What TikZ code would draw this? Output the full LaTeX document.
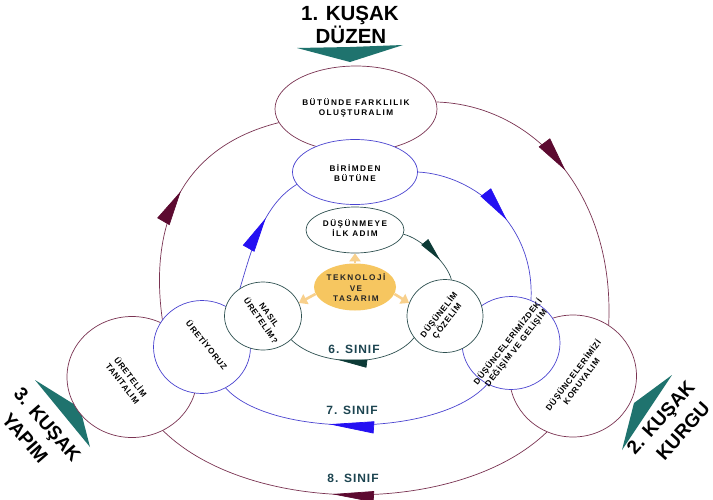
\documentclass[tikz,border=0pt]{standalone}
\usepackage{fontspec}
\setmainfont{Liberation Sans}
\newfontfamily\spcfont[LetterSpace=18]{Liberation Sans}
\newfontfamily\spcfontb[LetterSpace=8]{Liberation Sans}
\usetikzlibrary{shapes.geometric,arrows.meta,decorations.markings}
\definecolor{maroonline}{HTML}{7A3352}
\definecolor{maroonfill}{HTML}{5C0A30}
\definecolor{blueline}{HTML}{4A44D0}
\definecolor{bluefill}{HTML}{2410F2}
\definecolor{tealline}{HTML}{2E5050}
\definecolor{tealfill}{HTML}{0C3A36}
\definecolor{bigteal}{HTML}{1F736E}
\definecolor{goldfill}{HTML}{F6C660}
\definecolor{goldarrow}{HTML}{F8D08C}
\definecolor{labelcol}{HTML}{1C4450}
\begin{document}
\begin{tikzpicture}[x=1pt,y=-1pt,
  ell/.style={ellipse, fill=white, line width=0.7pt, inner sep=0pt},
  outerell/.style={ell, draw=maroonline},
  midell/.style={ell, draw=blueline},
  innerell/.style={ell, draw=tealline},
  boxtext/.style={font=\spcfont\bfseries\fontsize{8.2}{10.5}\selectfont, align=center, inner sep=0pt},
  rottext/.style={font=\spcfontb\bfseries\fontsize{8.3}{10.2}\selectfont, align=center, inner sep=0pt},
  bigtext/.style={font=\bfseries\fontsize{20.5}{20}\selectfont, inner sep=0pt},
  sidetext/.style={font=\bfseries\fontsize{19}{19}\selectfont, inner sep=0pt},
  classtext/.style={font=\spcfontb\bfseries\fontsize{12}{12}\selectfont, text=labelcol, inner sep=0pt},
  outerring/.style n args={3}{draw=maroonline, line width=0.7pt,
    postaction={decorate, decoration={markings, mark=at position #1 with {\arrow{Triangle[length=#2, width=#3, color=maroonfill]}}}}},
  midring/.style n args={3}{draw=blueline, line width=0.7pt,
    postaction={decorate, decoration={markings, mark=at position #1 with {\arrow{Triangle[length=#2, width=#3, color=bluefill]}}}}},
  innerring/.style n args={3}{draw=tealline, line width=0.7pt,
    postaction={decorate, decoration={markings, mark=at position #1 with {\arrow{Triangle[length=#2, width=#3, color=tealfill]}}}}},
  goldarr/.style={draw=goldarrow, line width=2.6pt, -{Triangle[length=8pt, width=11pt]}}
]
\fill[white] (0,0) rectangle (713,499);
\useasboundingbox (0,0) rectangle (713,499);

% big generation arrows and labels
\fill[bigteal] (297,48) -- (350,47) -- (403,45) -- (350,62) -- cycle;
\fill[bigteal] (672,375) -- (634,403) -- (622,450) -- cycle;
\fill[bigteal] (35,380) -- (80,408) -- (90,447) -- cycle;
\node[bigtext] (K1a) at (350,15) {1. KUŞAK};
\node[bigtext] (K1b) at (351,35) {DÜZEN};
\node[sidetext, rotate=48] (K2a) at (662,419) {2. KUŞAK};
\node[sidetext, rotate=48] (K2b) at (683,431) {KURGU};
\node[sidetext, rotate=-49] (K3a) at (46,426) {3. KUŞAK};
\node[sidetext, rotate=-49] (K3b) at (25,438) {YAPIM};

% outer ring
\node[outerell, minimum width=162pt, minimum height=86pt] (ET) at (356,109) {};
\node[boxtext] (ETt) at (356,108) {BÜTÜNDE FARKLILIK\\OLUŞTURALIM};
\node[outerell, minimum width=127pt, minimum height=122pt] (ER) at (573,376) {};
\node[rottext, rotate=53] (ERt) at (577,378) {DÜŞÜNCELERİMİZİ\\KORUYALIM};
\node[outerell, minimum width=130pt, minimum height=121pt] (EL) at (132,377) {};
\node[rottext, rotate=-52] (ELt) at (127,380) {ÜRETELİM\\TANITALIM};
\draw[outerring={0.48}{35pt}{14pt}] (ET.5) .. controls (535,105) and (615,195) .. (ER.55);
\draw[outerring={0.555}{42pt}{11pt}] (ER.245) .. controls (460,516) and (250,516) .. (EL.300);
\draw[outerring={0.525}{35pt}{14pt}] (EL.60) .. controls (150,240) and (170,150) .. (ET.190);

% middle ring
\node[midell, minimum width=125pt, minimum height=65pt] (MT) at (355,172) {};
\node[boxtext] (MTt) at (355,173) {BİRİMDEN\\BÜTÜNE};
\node[midell, minimum width=98pt, minimum height=93pt] (MR) at (511,343) {};
\node[rottext, rotate=52] (MRt) at (512,345) {DÜŞÜNCELERİMİZDEKİ\\DEĞİŞİM VE GELİŞİM};
\node[midell, minimum width=97pt, minimum height=93pt] (ML) at (202,347) {};
\node[rottext, rotate=-51] (MLt) at (207,345) {ÜRETİYORUZ};
\draw[midring={0.55}{35pt}{13pt}] (MT.0) .. controls (475,175) and (535,225) .. (MR.65);
\draw[midring={0.6}{45pt}{12pt}] (MR.240) .. controls (440,438) and (270,438) .. (ML.300);
\draw[midring={0.68}{35pt}{13pt}] (ML.50) .. controls (248,270) and (255,210) .. (MT.192);

% inner ring
\node[innerell, minimum width=98pt, minimum height=46pt] (IT) at (355,230) {};
\node[boxtext] (ITt) at (355,228) {DÜŞÜNMEYE\\İLK ADIM};
\node[innerell, minimum width=76pt, minimum height=73pt] (IR) at (445,316) {};
\node[rottext, rotate=52] (IRt) at (443,318) {DÜŞÜNELİM\\ÇÖZELİM};
\node[innerell, minimum width=77pt, minimum height=68pt] (IL) at (263,316) {};
\node[rottext, rotate=-55] (ILt) at (265,318) {NASIL\\ÜRETELİM?};
\draw[innerring={0.67}{24pt}{9pt}] (IT.355) .. controls (420,238) and (447,262) .. (IR.80);
\draw[innerring={0.62}{30pt}{8pt}] (IR.215) .. controls (390,368) and (320,368) .. (IL.320);

% centre
\node[ellipse, fill=goldfill, minimum width=82pt, minimum height=47pt, inner sep=0pt] (C) at (355,287) {};
\node[boxtext, text=black!85] (Ct) at (356,288) {TEKNOLOJİ\\VE\\TASARIM};
\draw[goldarr] (C.north) -- (IT.south);
\draw[goldarr] (C.190) -- (IL.20);
\draw[goldarr] (C.350) -- (IR.160);

% class labels
\node[classtext] (S6) at (354,349) {6. SINIF};
\node[classtext] (S7) at (352,410) {7. SINIF};
\node[classtext] (S8) at (353,478) {8. SINIF};
\end{tikzpicture}
\end{document}
